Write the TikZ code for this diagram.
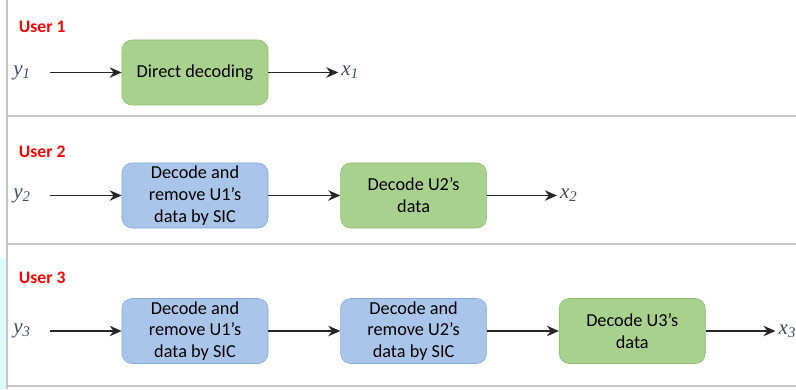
\documentclass[tikz,border=0pt]{standalone}
\usepackage{fontspec}
\setmainfont{Carlito}
\newfontfamily\sigfont{Liberation Serif}
\usetikzlibrary{positioning, arrows.meta}
\definecolor{boxgreen}{HTML}{A9D18E}
\definecolor{linegreen}{HTML}{8DBB70}
\definecolor{boxblue}{HTML}{A9C6EA}
\definecolor{lineblue}{HTML}{86AADB}
\definecolor{siggray}{HTML}{3F4C66}
\definecolor{framegray}{HTML}{C6C6C6}
\definecolor{sidecyan}{HTML}{DDFBFC}

\begin{document}
\begin{tikzpicture}[x=0.025cm, y=-0.025cm,
    decbox/.style={rectangle, rounded corners=2.5mm, minimum width=3.65cm, minimum height=1.625cm, inner ysep=1pt, align=center, font=\fontsize{13}{15.5}\selectfont},
    greenbox/.style={decbox, fill=boxgreen, draw=linegreen},
    bluebox/.style={decbox, fill=boxblue, draw=lineblue},
    user/.style={anchor=west, text=red, font=\bfseries\fontsize{12.5}{14}\selectfont},
    sig/.style={text=siggray, font=\sigfont\itshape\fontsize{15}{16}\selectfont, inner sep=2pt},
    arr/.style={-{Stealth[length=3mm, width=2.6mm]}, very thick, black!85}]
    \useasboundingbox (0,0) rectangle (796,389);

    % frame
    \fill[sidecyan] (0,258) rectangle (6,389);
    \draw[framegray, line width=1.2pt] (7,0) -- (7,389);
    \draw[framegray, line width=2pt] (7,116) -- (796,116);
    \draw[framegray, line width=2pt] (7,244) -- (796,244);
    \draw[framegray, line width=2pt] (7,386) -- (796,386);

    % user 1
    \node[user] (u1) at (14,27) {User 1};
    \node[sig] (y1) at (22,72.5) {y\textsubscript{1}};
    \node[greenbox] (dd1) at (195,72.5) {Direct decoding};
    \node[sig, right=1.75cm of dd1] (x1) {x\textsubscript{1}};
    \draw[arr, shorten <=4mm] (y1) -- (dd1);
    \draw[arr] (dd1) -- (x1);

    % user 2
    \node[user] (u2) at (14,152) {User 2};
    \node[sig] (y2) at (22,195.5) {y\textsubscript{2}};
    \node[bluebox] (sic21) at (195,195.5) {Decode and\\remove U1's\\data by SIC};
    \node[greenbox, right=1.8cm of sic21] (dd2) {Decode U2's\\data};
    \node[sig, right=1.75cm of dd2] (x2) {x\textsubscript{2}};
    \draw[arr, shorten <=4mm] (y2) -- (sic21);
    \draw[arr] (sic21) -- (dd2);
    \draw[arr] (dd2) -- (x2);

    % user 3
    \node[user] (u3) at (14,278) {User 3};
    \node[sig] (y3) at (22,331) {y\textsubscript{3}};
    \node[bluebox] (sic31) at (195,331) {Decode and\\remove U1's\\data by SIC};
    \node[bluebox, right=1.8cm of sic31] (sic32) {Decode and\\remove U2's\\data by SIC};
    \node[greenbox, right=1.8cm of sic32] (dd3) {Decode U3's\\data};
    \node[sig, right=1.75cm of dd3] (x3) {x\textsubscript{3}};
    \draw[arr, shorten <=4mm] (y3) -- (sic31);
    \draw[arr] (sic31) -- (sic32);
    \draw[arr] (sic32) -- (dd3);
    \draw[arr] (dd3) -- (x3);
\end{tikzpicture}
\end{document}
